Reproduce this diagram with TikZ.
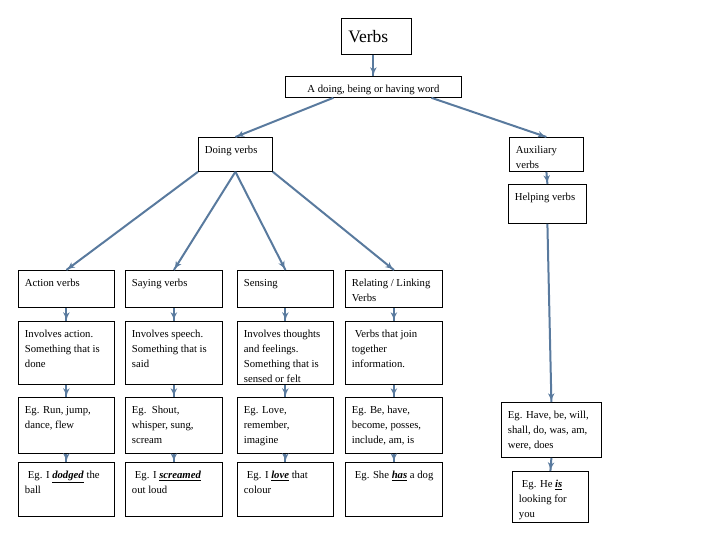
\documentclass[tikz,border=0pt]{standalone}
\usepackage{fontspec}
\setmainfont{Liberation Serif}
\usetikzlibrary{arrows}
\usetikzlibrary{decorations.markings}
\usetikzlibrary{positioning}
\tikzset{link/.style = {lblue, line width=2pt,
                        decoration={markings,
                                    mark=at position 1 with {\arrow[scale=1]{latex'}}},
                        postaction={decorate}}}
\tikzset{cell/.style = {draw, line width=0.8pt, anchor=north west,
                        inner xsep=6.5pt, inner ysep=9pt}}
\definecolor{lblue}{rgb}{0.35, 0.48, 0.62}
\newcommand{\boxtxt}[3]{\parbox[t][\dimexpr #2pt-18pt\relax][t]{\dimexpr #1pt-13pt\relax}{#3}}
\newcommand{\ulword}[1]{\underline{\textbf{\textit{#1}}}}

\begin{document}
\begin{tikzpicture}[x=1pt, y=-1pt, font=\fontsize{10.7}{15}\selectfont]
      \useasboundingbox (0,0) rectangle (720,540);

      \node [cell, inner ysep=0, minimum width=70, minimum height=36, text width=56,
             align=left, font=\fontsize{17.5}{20}\selectfont] (verbs) at (341,18) {Verbs};
      \node [cell, inner ysep=0, minimum width=176, minimum height=21,
             text height=11pt, text depth=0pt] (word) at (285,76) {A doing, being or having word};

      \node [cell] (doing) at (198,137) {\boxtxt{74}{34}{Doing verbs}};
      \node [cell] (aux) at (509,137) {\boxtxt{74}{34}{Auxiliary\\ verbs}};
      \node [cell] (help) at (508,184) {\boxtxt{78}{39}{Helping verbs}};

      \node [cell] (act1) at (18,270) {\boxtxt{96}{37}{Action verbs}};
      \node [cell] (say1) at (125,270) {\boxtxt{97}{37}{Saying verbs}};
      \node [cell] (sense1) at (237,270) {\boxtxt{96}{37}{Sensing}};
      \node [cell] (rel1) at (345,270) {\boxtxt{97}{37}{Relating / Linking\\ Verbs}};

      \node [cell] (act2) at (18,321) {\boxtxt{96}{63}{Involves action.\\ Something that is\\ done}};
      \node [cell] (say2) at (125,321) {\boxtxt{97}{63}{Involves speech.\\ Something that is\\ said}};
      \node [cell] (sense2) at (237,321) {\boxtxt{96}{63}{Involves thoughts\\ and feelings.\\ Something that is\\ sensed or felt}};
      \node [cell] (rel2) at (345,321) {\boxtxt{97}{63}{\hspace*{3pt}Verbs that join\\ together\\ information.}};

      \node [cell] (act3) at (18,397) {\boxtxt{96}{56}{Eg. Run, jump,\\ dance, flew}};
      \node [cell] (say3) at (125,397) {\boxtxt{97}{56}{Eg.\ \ Shout,\\ whisper, sung,\\ scream}};
      \node [cell] (sense3) at (237,397) {\boxtxt{96}{56}{Eg. Love,\\ remember,\\ imagine}};
      \node [cell] (rel3) at (345,397) {\boxtxt{97}{56}{Eg. Be, have,\\ become, posses,\\ include, am, is}};

      \node [cell] (act4) at (18,462) {\boxtxt{96}{54}{\hspace*{3pt}Eg. I \ulword{dodged} the\\ ball}};
      \node [cell] (say4) at (125,462) {\boxtxt{97}{54}{\hspace*{3pt}Eg. I \ulword{screamed}\\ out loud}};
      \node [cell] (sense4) at (237,462) {\boxtxt{96}{54}{\hspace*{3pt}Eg. I \ulword{love} that\\ colour}};
      \node [cell] (rel4) at (345,462) {\boxtxt{97}{54}{\hspace*{3pt}Eg. She \ulword{has} a dog}};

      \node [cell] (egaux) at (501,402) {\boxtxt{100}{55}{Eg. Have, be, will,\\ shall, do, was, am,\\ were, does}};
      \node [cell] (egis) at (512,471) {\boxtxt{76}{51}{\hspace*{3pt}Eg. He \ulword{is}\\ looking for\\ you}};

      \draw [link] (word.north |- verbs.south) -- (word.north);
      \draw [link] ([xshift=-40pt]word.south) -- (doing.north);
      \draw [link] ([xshift=58pt]word.south) -- (aux.north);

      \draw [link] (doing.south west) -- (act1.north);
      \draw [link] (doing.south) -- (say1.north);
      \draw [link] (doing.south) -- (sense1.north);
      \draw [link] (doing.south east) -- (rel1.north);

      \foreach \c in {act, say, sense, rel} {
        \foreach \r/\s in {1/2, 2/3, 3/4} {
          \draw [link] (\c\r.south) -- (\c\s.north);
        }
      }

      \draw [link] (aux.south) -- (help.north);
      \draw [link] (help.south) -- (egaux.north);
      \draw [link] (egaux.south) -- (egis.north);
    \end{tikzpicture}
\end{document}
